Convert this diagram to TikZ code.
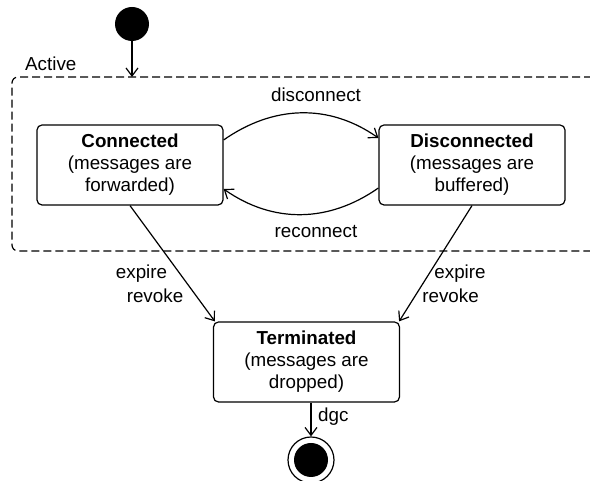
\documentclass[tikz,border=0pt]{standalone}
\usepackage{fontspec}
\setmainfont{Liberation Sans}
\usetikzlibrary{arrows.meta,calc}
\begin{document}
\begin{tikzpicture}[x=1pt,y=1pt, font=\fontsize{18.8}{22}\selectfont,
  state/.style={draw, line width=1.2pt, rounded corners=5pt, minimum width=186pt, minimum height=80pt, align=center, inner sep=0pt},
  conn/.style={line width=1.2pt, -{Straight Barb[length=8pt,width=12pt]}},
  lbl/.style={inner sep=0pt}]
\useasboundingbox (0,0) rectangle (590,481);
% initial
\node[circle, fill=black, minimum size=34pt, inner sep=0pt] (init) at (132,457) {};
% composite state
\draw[line width=1.2pt, dash pattern=on 8pt off 4pt, rounded corners=6pt] (592,404) -- (12,404) -- (12,230) -- (592,230);
\coordinate (activetop) at (132,404);
\node[lbl, anchor=west] (activelbl) at (25,417) {Active};
% states
\node[state] (con) at (130,316) {\textbf{Connected}\\(messages are\\forwarded)};
\node[state] (dis) at (472,316) {\textbf{Disconnected}\\(messages are\\buffered)};
\node[state] (term) at (306.5,119) {\textbf{Terminated}\\(messages are\\dropped)};
% final
\node[circle, draw, line width=1.2pt, minimum size=46pt, inner sep=0pt] (fin) at (311,21) {};
\node[circle, fill=black, minimum size=34pt, inner sep=0pt] (finin) at (fin.center) {};
% connectors
\draw[conn] (init) -- (activetop);
\draw[conn] ([yshift=25pt]con.east) to[out=35,in=145] ([yshift=27pt]dis.west);
\draw[conn] ([yshift=-23pt]dis.west) to[out=-145,in=-35] ([yshift=-24pt]con.east);
\draw[conn] (con.south) -- ([xshift=2pt]term.north west);
\draw[conn] (dis.south) -- ([xshift=-1pt]term.north east);
\draw[conn] (term.south -| fin.north) -- (fin.north);
% labels
\node[lbl] (ldis) at (316,386) {disconnect};
\node[lbl] (lrec) at (316,249) {reconnect};
\node[lbl] (lexp1) at (141.5,207) {expire};
\node[lbl] (lrev1) at (155,185) {revoke};
\node[lbl] (lexp2) at (460,207) {expire};
\node[lbl] (lrev2) at (450.5,185) {revoke};
\node[lbl, anchor=west] (ldgc) at (318,64) {dgc};
\end{tikzpicture}
\end{document}
